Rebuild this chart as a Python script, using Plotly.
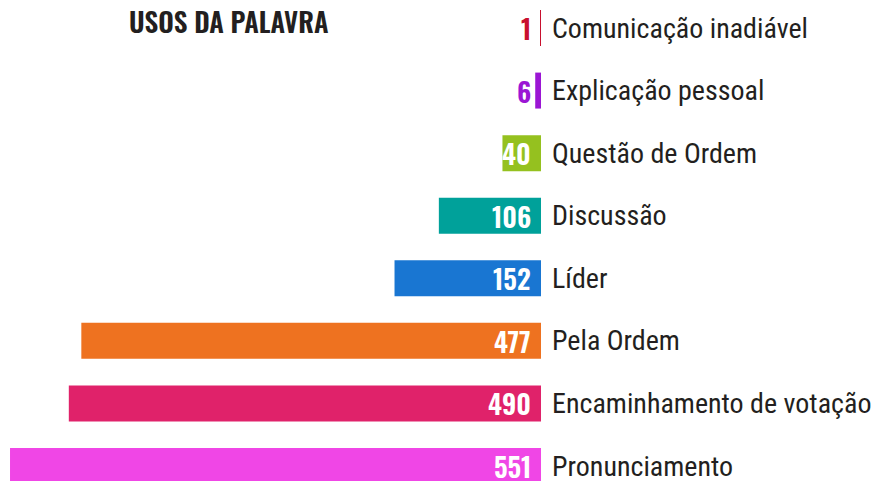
import plotly.graph_objects as go

# Uses of the floor, by type
categorias = [
    "Comunicação inadiável",
    "Explicação pessoal",
    "Questão de Ordem",
    "Discussão",
    "Líder",
    "Pela Ordem",
    "Encaminhamento de votação",
    "Pronunciamento",
]
usos = [1, 6, 40, 106, 152, 477, 490, 551]
cores = ["#c8102e", "#9b16d4", "#95c11f", "#00a19a", "#1976d2",
         "#ee7220", "#e0226a", "#f046e6"]
titulo = "USOS DA PALAVRA"

LABEL_FONT = "Roboto Condensed, Roboto, sans-serif"
BOLD_FONT = "Oswald, Roboto Condensed, sans-serif"

fig = go.Figure(
    go.Bar(
        x=usos,
        y=categorias,
        orientation="h",
        marker=dict(color=cores, line=dict(width=0)),
        width=0.575,
        hoverinfo="skip",
    )
)

annotations = []
last = categorias[-1]
for cat, val, cor in zip(categorias, usos, cores):
    # value label sits inside the bar when it fits, otherwise in the bar colour
    cor_txt = "#ffffff" if val >= 30 else cor
    # the bottom row sits at the page edge: keep its text boxes compact
    box_h = 30 if cat == last else None
    annotations.append(dict(
        x=0, y=cat, xref="x", yref="y", text=str(val),
        xanchor="right", yanchor="middle", xshift=-8, showarrow=False,
        height=box_h,
        font=dict(family=BOLD_FONT, size=27, color=cor_txt, weight=600),
    ))
    annotations.append(dict(
        x=0, y=cat, xref="x", yref="y", text=cat,
        xanchor="left", yanchor="middle", xshift=9, showarrow=False,
        height=box_h,
        font=dict(family=LABEL_FONT, size=28, color="#231f20"),
    ))

# title position is given in pixels; convert to paper fractions
pw, ph = 878 - 337, 481
annotations.append(dict(
    x=229 / pw, y=1 - 21 / ph, xref="paper", yref="paper", text=titulo,
    xanchor="center", yanchor="middle", showarrow=False,
    font=dict(family=BOLD_FONT, size=27, color="#231f20", weight=600),
))

fig.update_layout(
    width=878,
    height=481,
    margin=dict(l=0, r=337, t=0, b=0),
    paper_bgcolor="#ffffff",
    plot_bgcolor="#ffffff",
    showlegend=False,
    xaxis=dict(range=[561.4, 0], visible=False, fixedrange=True),
    yaxis=dict(range=[7.24, -0.4475], visible=False, fixedrange=True,
               categoryorder="array", categoryarray=categorias),
    annotations=annotations,
)

fig.write_html("out.html")
